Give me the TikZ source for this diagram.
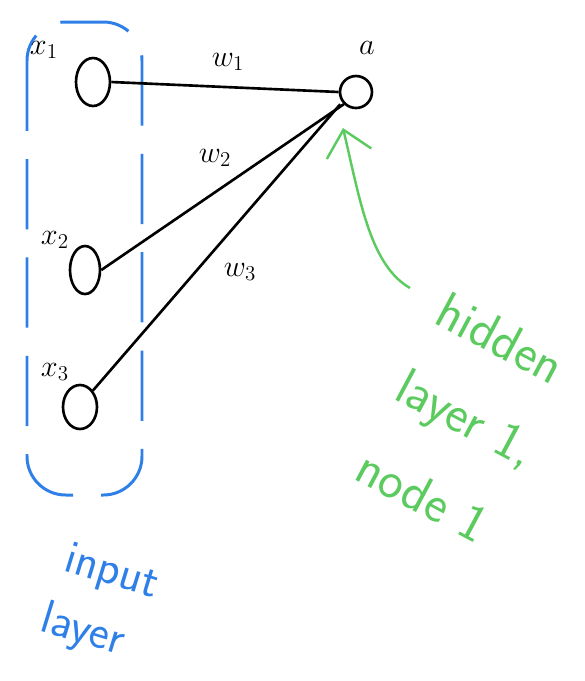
\documentclass[tikz,border=0pt]{standalone}
\usetikzlibrary{arrows.meta,shapes.geometric}
\definecolor{penblue}{HTML}{2F7FE8}
\definecolor{pengreen}{HTML}{5CCB5F}
\begin{document}
\begin{tikzpicture}[x=0.02cm,y=-0.02cm,
  unit/.style={draw,line width=1.5pt,ellipse,inner sep=0pt},
  wire/.style={line width=1.5pt},
  lbl/.style={font=\LARGE},
  gtext/.style={text=pengreen,font=\fontsize{30}{34}\selectfont\sffamily,rotate=-28,anchor=base west,inner sep=0pt},
  btext/.style={text=penblue,font=\fontsize{27}{30}\selectfont\sffamily,rotate=-17,anchor=base west,inner sep=0pt}]
\useasboundingbox (0,0) rectangle (585,681);
\draw[penblue,line width=1.7pt,dash pattern=on 40pt off 16pt,rounded corners=22pt]
  (27,22) rectangle (142,495);
\node[unit,minimum width=0.68cm,minimum height=0.96cm] (x1) at (93,82) {};
\node[unit,minimum width=0.60cm,minimum height=0.96cm] (x2) at (85,270) {};
\node[unit,minimum width=0.68cm,minimum height=0.88cm] (x3) at (80,407) {};
\node[unit,minimum width=0.64cm,minimum height=0.64cm] (a) at (356,92) {};
\node[lbl] (lx1) at (44,50) {$x_1$};
\node[lbl] (lx2) at (55,240) {$x_2$};
\node[lbl] (lx3) at (55,372) {$x_3$};
\node[lbl] (la) at (367,48) {$a$};
\node[lbl] (lw1) at (228,62) {$w_1$};
\node[lbl] (lw2) at (215,158) {$w_2$};
\node[lbl] (lw3) at (240,272) {$w_3$};
\draw[wire] (x1.east) -- (a.west);
\draw[wire] (x2.east) -- (a.south west);
\draw[wire] (x3.north east) -- ([xshift=-2pt]a.south west);
\coordinate (gtail) at (410,288);
\coordinate (gtip) at (343,128);
\draw[pengreen,line width=1.4pt,-{Straight Barb[length=14pt,width=26pt]}]
  (gtail) .. controls (370,265) and (360,200) .. (gtip);
\node[gtext] (h1) at (432,322) {hidden};
\node[gtext] (h2) at (392,398) {layer 1,};
\node[gtext] (h3) at (352,478) {node 1};
\node[btext] (i1) at (62,570) {input};
\node[btext] (i2) at (38,630) {layer};
\end{tikzpicture}
\end{document}
